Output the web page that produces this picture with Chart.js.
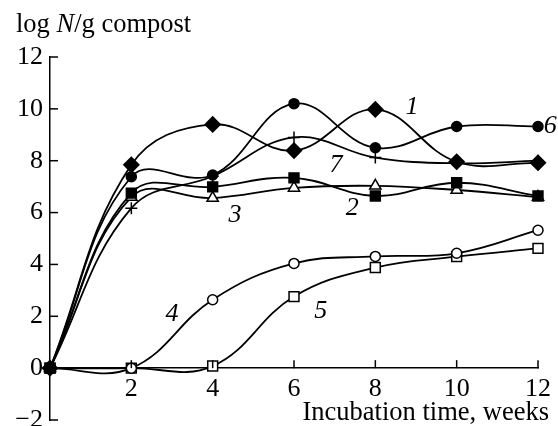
<!DOCTYPE html>
<html>
<head>
<meta charset="utf-8">
<script src="https://cdn.jsdelivr.net/npm/chart.js@4.4.1/dist/chart.umd.min.js"></script>
<style>
html,body{margin:0;padding:0;background:#fff;}
#wrap{width:558px;height:426px;}
</style>
</head>
<body>
<div id="wrap"><canvas id="c" width="558" height="426"></canvas></div>
<script>
const weeks = [0, 2, 4, 6, 8, 10, 12];
const series1 = [0, 7.84, 9.4, 8.39, 9.98, 7.96, 7.92];
const series2 = [0, 6.75, 6.99, 7.34, 6.64, 7.15, 6.64];
const series3 = [0, 6.6, 6.56, 6.95, 7.03, 6.87, 6.6];
const series4 = [0, 0, 2.64, 4.04, 4.31, 4.43, 5.32];
const series5 = [0, 0, 0.08, 2.76, 3.88, 4.3, 4.62];
const series6 = [0, 7.38, 7.45, 10.2, 8.5, 9.32, 9.32];
const series7 = [0, 6.17, 7.4, 8.9, 8.12, 7.9, 8.0];
const seriesNames = ['1', '2', '3', '4', '5', '6', '7'];
const yTicks = [-2, 0, 2, 4, 6, 8, 10, 12];
const xTicks = [2, 4, 6, 8, 10, 12];
const yTitleParts = ['log ', 'N', '/g compost'];
const xTitle = 'Incubation time, weeks';

const FONT = "'Liberation Serif', 'Times New Roman', serif";

function pts(vals) { return weeks.map((w, i) => ({x: w, y: vals[i]})); }

function ds(name, vals, style, radius, fill) {
  return {
    label: name,
    data: pts(vals),
    borderColor: '#000',
    borderWidth: 1.8,
    pointStyle: style,
    pointRadius: radius,
    pointHoverRadius: radius,
    pointBackgroundColor: fill,
    pointBorderColor: '#000',
    pointBorderWidth: 1.5,
    tension: 0.4,
    fill: false,
    clip: false
  };
}

// series label anchors in data units (week, log N)
const labelAnchors = [
  [seriesNames[0], 8.9, 10.05],
  [seriesNames[1], 7.43, 6.17],
  [seriesNames[2], 4.55, 5.9],
  [seriesNames[3], 3.0, 2.1],
  [seriesNames[4], 6.66, 2.2],
  [seriesNames[5], 12.3, 9.35],
  [seriesNames[6], 7.03, 7.84]
];

const deco = {
  id: 'deco',
  afterDraw(chart) {
    const {ctx, chartArea: a, scales: {x, y}} = chart;
    ctx.save();
    ctx.strokeStyle = '#000';
    ctx.lineWidth = 1.5;
    yTicks.forEach(v => {
      const py = y.getPixelForValue(v);
      ctx.beginPath(); ctx.moveTo(a.left, py); ctx.lineTo(a.left + 8, py); ctx.stroke();
    });
    const y0 = y.getPixelForValue(0);
    xTicks.forEach(v => {
      const px = x.getPixelForValue(v);
      ctx.beginPath(); ctx.moveTo(px, y0); ctx.lineTo(px, y0 - 8); ctx.stroke();
    });
    ctx.fillStyle = '#000';
    ctx.textBaseline = 'alphabetic';
    // y title
    let tx = 16;
    yTitleParts.forEach((p, i) => {
      ctx.font = (i === 1 ? 'italic ' : '') + '26.5px ' + FONT;
      ctx.textAlign = 'left';
      ctx.fillText(p, tx, 32);
      tx += ctx.measureText(p).width;
    });
    // x title
    ctx.font = '26.5px ' + FONT;
    ctx.textAlign = 'right';
    ctx.fillText(xTitle, 549, 420);
    // series labels
    ctx.font = 'italic 26px ' + FONT;
    ctx.textAlign = 'center';
    ctx.textBaseline = 'middle';
    labelAnchors.forEach(([t, wx, wy]) => {
      ctx.fillText(t, x.getPixelForValue(wx), y.getPixelForValue(wy));
    });
    ctx.restore();
  }
};

new Chart(document.getElementById('c'), {
  type: 'line',
  data: {
    datasets: [
      ds(seriesNames[0], series1, 'rectRot', 7.5, '#000'),
      ds(seriesNames[5], series6, 'circle', 5, '#000'),
      ds(seriesNames[6], series7, 'cross', 6, '#000'),
      ds(seriesNames[1], series2, 'rect', 7, '#000'),
      ds(seriesNames[2], series3, 'triangle', 6.5, '#fff'),
      ds(seriesNames[3], series4, 'circle', 5, '#fff'),
      ds(seriesNames[4], series5, 'rect', 7, '#fff')
    ]
  },
  options: {
    responsive: false,
    animation: false,
    layout: {autoPadding: false, padding: {top: 57, right: 20, bottom: 6, left: 0}},
    plugins: {legend: {display: false}, tooltip: {enabled: false}},
    scales: {
      x: {
        type: 'linear',
        min: 0, max: 12,
        position: {y: 0},
        afterBuildTicks: s => { s.ticks = [0].concat(xTicks).map(v => ({value: v})); },
        afterFit: s => { s.height = 0; },
        ticks: {
          color: '#000',
          font: {family: FONT, size: 26},
          padding: 5,
          maxRotation: 0,
          autoSkip: false,
          callback: v => (v === 0 ? '' : String(v))
        },
        grid: {display: true, drawOnChartArea: false, drawTicks: false},
        border: {display: true, color: '#000', width: 1.5}
      },
      y: {
        type: 'linear',
        min: -2, max: 12,
        position: 'left',
        afterBuildTicks: s => { s.ticks = yTicks.map(v => ({value: v})); },
        afterFit: s => { s.width = 50; s.paddingTop = 0; s.paddingBottom = 0; },
        ticks: {
          color: '#000',
          font: {family: FONT, size: 26},
          padding: 7,
          callback: v => (v < 0 ? '\u2212' + Math.abs(v) : String(v))
        },
        grid: {display: true, drawOnChartArea: false, drawTicks: false},
        border: {display: true, color: '#000', width: 1.5}
      }
    }
  },
  plugins: [deco]
});
</script>
</body>
</html>
